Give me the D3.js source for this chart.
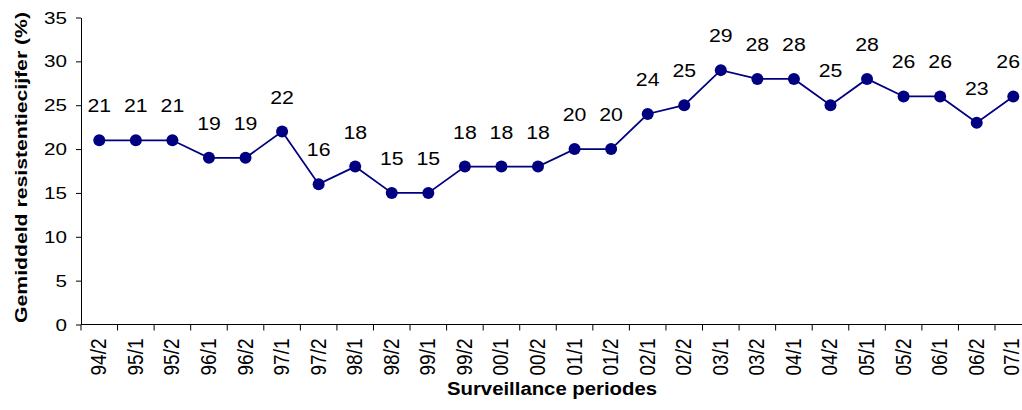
<!DOCTYPE html>
<html><head><meta charset="utf-8">
<script src="https://cdn.jsdelivr.net/npm/d3@7"></script>
<style>
html,body{margin:0;padding:0;background:#fff;overflow:hidden}
text{font-family:Arial,"Liberation Sans",sans-serif;fill:#000}
</style></head>
<body><svg id="c" width="1022" height="410"></svg>
<script>
const categories = ["94/2","95/1","95/2","96/1","96/2","97/1","97/2","98/1","98/2","99/1","99/2","00/1","00/2","01/1","01/2","02/1","02/2","03/1","03/2","04/1","04/2","05/1","05/2","06/1","06/2","07/1"];
const values = [21,21,21,19,19,22,16,18,15,15,18,18,18,20,20,24,25,29,28,28,25,28,26,26,23,26];
const yTicks = [0,5,10,15,20,25,30,35];
const yTitle = "Gemiddeld resistentiecijfer (%)";
const xTitle = "Surveillance periodes";

const W = 1022;
const svg = d3.select("#c");
const x0 = 81, bw = 36.56;
const x = d3.scaleBand().domain(categories).range([x0, x0 + bw*categories.length]).padding(0);
const y = d3.scaleLinear().domain([0,35]).range([324.5, 17.5]);
const color = "#000080";
const cx = (d,i) => x(categories[i]) + x.bandwidth()/2;

// y axis
const ya = svg.append("g").attr("transform", `translate(${x0},0)`)
  .call(d3.axisLeft(y).tickValues(yTicks).tickSize(5).tickSizeOuter(0));
ya.select(".domain").attr("stroke","#000");
ya.selectAll("line").attr("stroke","#000");
ya.selectAll(".tick text").remove();
svg.selectAll("text.yt").data(yTicks).enter().append("text").attr("class","yt")
  .attr("transform", d => `translate(67,${y(d)+6}) scale(1.25,1)`)
  .attr("text-anchor","end").style("font-size","16.5px").text(d => d);

// x axis
const xa = svg.append("g").attr("transform", `translate(0,${y(0)})`);
xa.append("line").attr("x1", x0).attr("x2", x0 + bw*categories.length).attr("stroke","#000");
xa.selectAll("line.t").data(d3.range(categories.length+1)).enter().append("line")
  .attr("class","t").attr("x1", i => x0 + i*bw).attr("x2", i => x0 + i*bw)
  .attr("y1",0).attr("y2",6).attr("stroke","#000");
xa.selectAll("text.lab").data(categories).enter().append("text")
  .attr("class","lab")
  .attr("transform", d => `translate(${Math.min(x(d)+x.bandwidth()/2+7, W-3)},${14}) scale(1.15,1) rotate(-90)`)
  .attr("text-anchor","end").style("font-size","19px").text(d => d);

// line
svg.append("path").datum(values)
  .attr("fill","none").attr("stroke",color).attr("stroke-width",1.8)
  .attr("d", d3.line().x(cx).y(d=>y(d)));
svg.selectAll("circle.p").data(values).enter().append("circle")
  .attr("cx",cx).attr("cy",d=>y(d)).attr("r",6).attr("fill",color);
svg.selectAll("text.v").data(values).enter().append("text")
  .attr("class","v")
  .attr("text-anchor","middle").style("font-size","18.5px").text(d=>d)
  .each(function(d,i){
    const el = d3.select(this);
    const w = this.getComputedTextLength() * 1.15;
    const px = Math.min(cx(d,i), W - 2 - w/2);
    el.attr("transform", `translate(${px},${y(d)-28}) scale(1.15,1)`);
  });

// titles
svg.append("text").attr("transform","translate(27,167.5) rotate(-90)").attr("text-anchor","middle")
  .attr("textLength",311).attr("lengthAdjust","spacingAndGlyphs")
  .style("font-size","17px").style("font-weight","bold").text(yTitle);
svg.append("text").attr("x",552).attr("y",395).attr("text-anchor","middle")
  .attr("textLength",210).attr("lengthAdjust","spacingAndGlyphs")
  .style("font-size","17.5px").style("font-weight","bold").text(xTitle);
</script></body></html>
